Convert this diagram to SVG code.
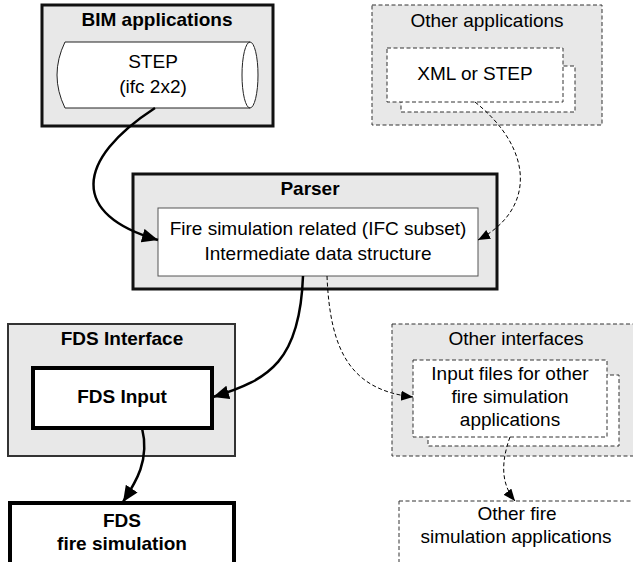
<svg xmlns="http://www.w3.org/2000/svg" width="633" height="562" viewBox="0 0 633 562">
<style>
text{font-family:"Liberation Sans",Arial,sans-serif;font-size:19px;fill:#000;text-anchor:middle}
.b{font-weight:bold}
.grp{fill:#e8e8e8}
.thick{stroke:#111;stroke-width:3}
.mid{stroke:#333;stroke-width:2}
.heavy{fill:#fff;stroke:#000;stroke-width:4}
.thin{fill:#fff;stroke:#555;stroke-width:1}
.dash{stroke:#333;stroke-width:1;stroke-dasharray:4 2.5}
.dashw{fill:#fff;stroke:#333;stroke-width:1;stroke-dasharray:4 2.5}
.con{fill:none;stroke:#000;stroke-width:2.5}
.cond{fill:none;stroke:#000;stroke-width:1;stroke-dasharray:4 2.5}
</style>
<defs>
<marker id="ah" markerUnits="userSpaceOnUse" markerWidth="17" markerHeight="14" refX="16" refY="7" orient="auto">
<path d="M0,0 L16,7 L0,14 Z" fill="#000"/>
</marker>
<marker id="ahd" markerUnits="userSpaceOnUse" markerWidth="13" markerHeight="11" refX="12" refY="5" orient="auto">
<path d="M0,0 L12,5 L0,10 Z" fill="#000"/>
</marker>
</defs>
<rect width="633" height="562" fill="#fff"/>

<g id="bim">
<rect class="grp thick" x="42" y="5" width="231" height="121"/>
<text class="b" x="157" y="26">BIM applications</text>
<path d="M65,42 L250,42 A8,33 0 0 1 250,108 L65,108 Q49,75 65,42 Z" fill="#fff" stroke="#222" stroke-width="1"/>
<path d="M250,42 A8,33 0 0 0 250,108" fill="none" stroke="#222" stroke-width="1"/>
<text x="153" y="68">STEP</text>
<text x="153" y="93">(ifc 2x2)</text>
</g>

<g id="other-apps">
<rect class="grp dash" x="372" y="5" width="230" height="120"/>
<text x="487" y="27">Other applications</text>
<rect class="dashw" x="401" y="66" width="174" height="46"/>
<rect class="dashw" x="387" y="48" width="176" height="54"/>
<text x="475" y="80">XML or STEP</text>
</g>

<g id="parser">
<rect class="grp thick" x="133" y="174" width="364" height="115"/>
<text class="b" x="310" y="195">Parser</text>
<rect class="thin" x="158" y="208" width="320" height="68"/>
<text x="318" y="235">Fire simulation related (IFC subset)</text>
<text x="318" y="260">Intermediate data structure</text>
</g>

<g id="fds-interface">
<rect class="grp mid" x="8" y="324" width="227" height="132"/>
<text class="b" x="122" y="345">FDS Interface</text>
<rect class="heavy" x="33" y="368" width="179" height="60"/>
<text class="b" x="122" y="403">FDS Input</text>
</g>

<g id="fds-sim">
<rect class="heavy" x="10" y="503" width="224" height="70"/>
<text class="b" x="122" y="527">FDS</text>
<text class="b" x="122" y="550">fire simulation</text>
</g>

<g id="other-interfaces">
<rect class="grp dash" x="392" y="324" width="250" height="132"/>
<text x="516" y="345">Other interfaces</text>
<rect class="dashw" x="428" y="375" width="191" height="71"/>
<rect class="dashw" x="413" y="360" width="194" height="77"/>
<text x="510" y="380">Input files for other</text>
<text x="510" y="403">fire simulation</text>
<text x="510" y="426">applications</text>
</g>

<g id="other-sim">
<rect class="dashw" x="399" y="501" width="250" height="80"/>
<text x="517" y="520">Other fire</text>
<text x="516" y="543">simulation applications</text>
</g>

<g id="connectors">
<path class="con" d="M155,108 C75,160 70,215 158,240" marker-end="url(#ah)"/>
<path class="cond" d="M475,102 C535,150 535,210 478,240" marker-end="url(#ahd)"/>
<path class="con" d="M303,276 C300,360 270,380 213,397" marker-end="url(#ah)"/>
<path class="cond" d="M327,276 C330,350 350,390 413,397" marker-end="url(#ahd)"/>
<path class="con" d="M142,428 C150,460 136,482 123,502" marker-end="url(#ah)"/>
<path class="cond" d="M510,437 C500,465 502,485 515,501" marker-end="url(#ahd)"/>
</g>
</svg>
